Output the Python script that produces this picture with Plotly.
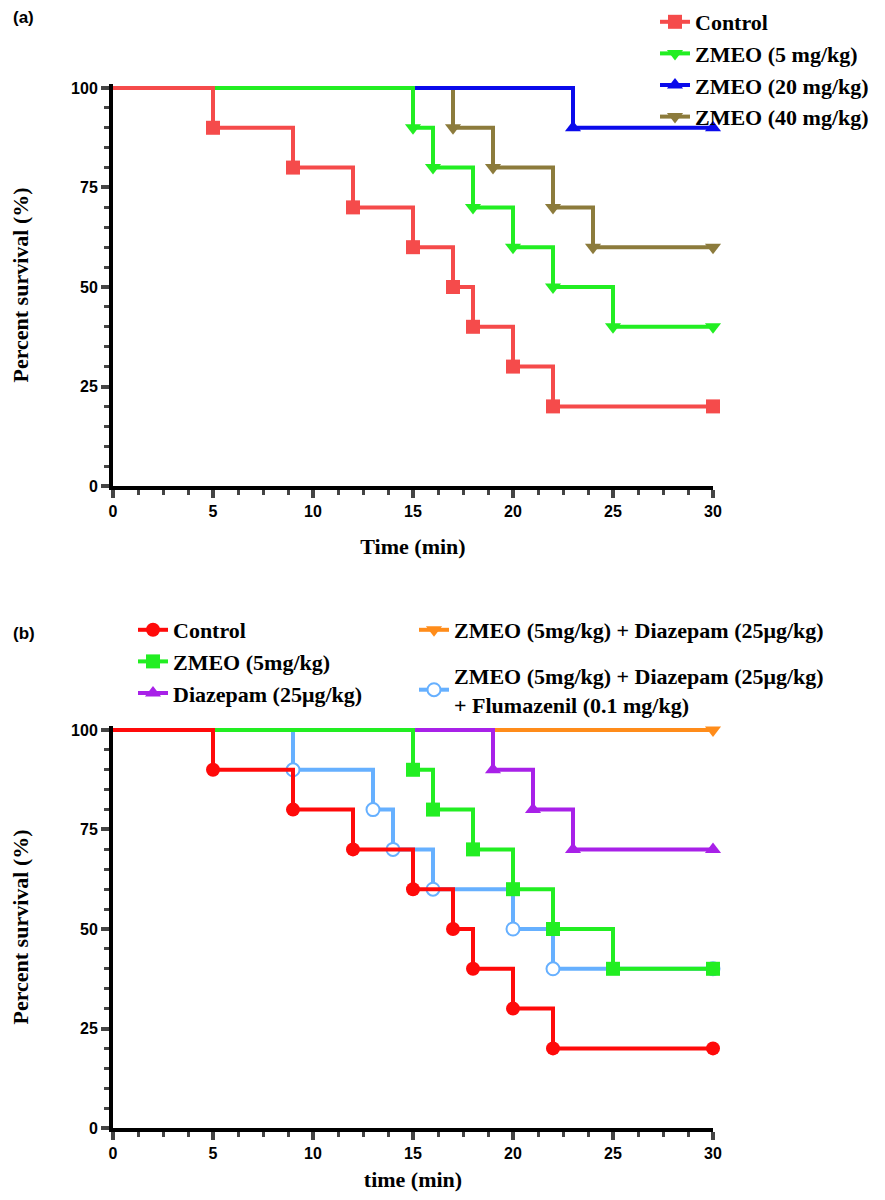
import plotly.graph_objects as go

# ---------------- data ----------------
# Panel (a)
a_names = ["Control", "ZMEO (5 mg/kg)", "ZMEO (20 mg/kg)", "ZMEO (40 mg/kg)"]
a_control_t = [5, 9, 12, 15, 17, 18, 20, 22]
a_control_s = [90, 80, 70, 60, 50, 40, 30, 20]
a_z5_t = [15, 16, 18, 20, 22, 25]
a_z5_s = [90, 80, 70, 60, 50, 40]
a_z20_t = [23]
a_z20_s = [90]
a_z40_t = [17, 19, 22, 24]
a_z40_s = [90, 80, 70, 60]

# Panel (b)
b_names = ["Control", "ZMEO (5mg/kg)", "Diazepam (25μg/kg)",
           "ZMEO (5mg/kg) + Diazepam (25μg/kg)",
           "ZMEO (5mg/kg) + Diazepam (25μg/kg)<br>+ Flumazenil (0.1 mg/kg)"]
b_control_t = [5, 9, 12, 15, 17, 18, 20, 22]
b_control_s = [90, 80, 70, 60, 50, 40, 30, 20]
b_z5_t = [15, 16, 18, 20, 22, 25]
b_z5_s = [90, 80, 70, 60, 50, 40]
b_diaz_t = [19, 21, 23]
b_diaz_s = [90, 80, 70]
b_zd_t = []
b_zd_s = []
b_zdf_t = [9, 13, 14, 16, 20, 22]
b_zdf_s = [90, 80, 70, 60, 50, 40]

t_end = 30
x_ticks = [0, 5, 10, 15, 20, 25, 30]
y_ticks = [0, 25, 50, 75, 100]

SERIF = "Times New Roman, Liberation Serif, serif"
SANS = "Arial, Liberation Sans, sans-serif"

# figure size chosen so that the page (with the browser's 8px body margin) is 885x1200
W, H = 869, 1184
OFF = 8


def px(xp):
    return (xp - OFF) / W


def py(yp):
    return 1 - (yp - OFF) / H


fig = go.Figure()


def add_series(times, surv, name, color, symbol, msize, xa, ya, legend, rank,
               open_marker=False):
    xs = [0] + list(times) + [t_end]
    ys = [100] + list(surv) + [surv[-1] if surv else 100]
    mx = list(times) + [t_end]
    my = list(surv) + [surv[-1] if surv else 100]
    grp = legend + name
    if open_marker:
        mk = dict(symbol=symbol, size=msize, color="white",
                  line=dict(color=color, width=2))
    else:
        mk = dict(symbol=symbol, size=msize, color=color, line=dict(width=0))
    fig.add_trace(go.Scatter(x=xs, y=ys, mode="lines", line_shape="hv",
                             line=dict(color=color, width=4),
                             xaxis=xa, yaxis=ya, showlegend=False,
                             legendgroup=grp, hoverinfo="skip"))
    fig.add_trace(go.Scatter(x=mx, y=my, mode="markers", marker=mk,
                             xaxis=xa, yaxis=ya, showlegend=False,
                             legendgroup=grp, cliponaxis=False, name=name))
    fig.add_trace(go.Scatter(x=[None], y=[None], mode="lines+markers",
                             line=dict(color=color, width=4), marker=mk,
                             name=name, xaxis=xa, yaxis=ya, legend=legend,
                             legendgroup=grp, legendrank=rank, showlegend=True))


# Panel (a): drawn bottom -> top
add_series(a_z40_t, a_z40_s, a_names[3], "#8C7B3C", "triangle-down", 14, "x", "y", "legend", 4)
add_series(a_z20_t, a_z20_s, a_names[2], "#0A0AEB", "triangle-up", 14, "x", "y", "legend", 3)
add_series(a_z5_t, a_z5_s, a_names[1], "#22EE22", "triangle-down", 14, "x", "y", "legend", 2)
add_series(a_control_t, a_control_s, a_names[0], "#F54B4B", "square", 14, "x", "y", "legend", 1)

# Panel (b): drawn bottom -> top
add_series(b_zdf_t, b_zdf_s, b_names[4], "#66B0FF", "circle", 13, "x2", "y2", "legend3", 2, open_marker=True)
add_series(b_zd_t, b_zd_s, b_names[3], "#FF8C1A", "triangle-down", 14, "x2", "y2", "legend3", 1)
add_series(b_diaz_t, b_diaz_s, b_names[2], "#A821E8", "triangle-up", 14, "x2", "y2", "legend2", 3)
add_series(b_z5_t, b_z5_s, b_names[1], "#22EE22", "square", 14, "x2", "y2", "legend2", 2)
add_series(b_control_t, b_control_s, b_names[0], "#FF0A0A", "circle", 14, "x2", "y2", "legend2", 1)

xdom = [px(113), px(713)]
ya_dom = [py(486), py(84)]
yb_dom = [py(1128), py(726)]

xaxis_common = dict(range=[0, 30], tickvals=x_ticks, ticks="outside", ticklen=8, tickwidth=3.5,
                    showline=True, linewidth=4, linecolor="black", showgrid=False, zeroline=False,
                    tickfont=dict(family=SANS, size=16, color="black", weight="bold"),
                    minor=dict(dtick=1.25, tick0=0, ticks="outside", ticklen=5, tickwidth=3, showgrid=False),
                    domain=xdom, fixedrange=True, automargin=False)
yaxis_common = dict(range=[0, 101], tickvals=y_ticks, ticks="outside", ticklen=8, tickwidth=3.5,
                    showline=True, linewidth=4, linecolor="black", showgrid=False, zeroline=False,
                    tickfont=dict(family=SANS, size=16, color="black", weight="bold"),
                    minor=dict(dtick=5, tick0=0, ticks="outside", ticklen=5, tickwidth=3, showgrid=False),
                    fixedrange=True, automargin=False)

title_font = dict(family=SERIF, size=22, color="black", weight="bold")
legend_font = dict(family=SERIF, size=22, color="black", weight="bold")

fig.update_layout(
    template="none",
    width=W, height=H,
    margin=dict(l=0, r=0, t=0, b=0, pad=0, autoexpand=False),
    paper_bgcolor="white", plot_bgcolor="white",
    xaxis=dict(**xaxis_common, anchor="y",
               title=dict(text="Time (min)", font=title_font, standoff=20)),
    yaxis=dict(**yaxis_common, domain=ya_dom, anchor="x",
               title=dict(text="Percent survival (%)", font=title_font, standoff=38)),
    xaxis2=dict(**xaxis_common, anchor="y2",
                title=dict(text="time (min)", font=title_font, standoff=22)),
    yaxis2=dict(**yaxis_common, domain=yb_dom, anchor="x2",
                title=dict(text="Percent survival (%)", font=title_font, standoff=38)),
    legend=dict(x=px(655), y=py(1), xanchor="left", yanchor="top", font=legend_font,
                bgcolor="rgba(0,0,0,0)", borderwidth=0, traceorder="normal"),
    legend2=dict(x=px(133), y=py(609), xanchor="left", yanchor="top", font=legend_font,
                 bgcolor="rgba(0,0,0,0)", borderwidth=0, traceorder="normal"),
    legend3=dict(x=px(414), y=py(609), xanchor="left", yanchor="top", font=legend_font,
                 bgcolor="rgba(0,0,0,0)", borderwidth=0, tracegroupgap=14, traceorder="grouped"),
    annotations=[
        dict(text="(a)", x=px(11), y=py(18), xref="paper", yref="paper",
             xanchor="left", yanchor="middle", showarrow=False,
             font=dict(family=SANS, size=17, color="black", weight="bold")),
        dict(text="(b)", x=px(11), y=py(633), xref="paper", yref="paper",
             xanchor="left", yanchor="middle", showarrow=False,
             font=dict(family=SANS, size=17, color="black", weight="bold")),
    ],
    hovermode=False,
)

fig.write_html("out.html")
